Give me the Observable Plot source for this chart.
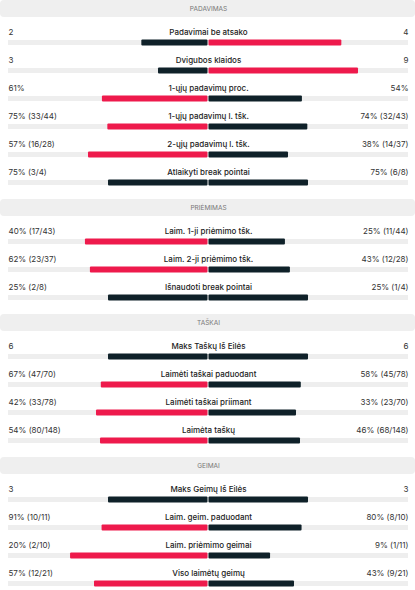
<!DOCTYPE html>
<html>
<head>
<meta charset="utf-8">
<script src="https://cdn.jsdelivr.net/npm/d3@7"></script>
<script src="https://cdn.jsdelivr.net/npm/@observablehq/plot@0.6"></script>
<style>
  html, body { margin: 0; padding: 0; background: #fff; }
  #chart svg { display: block; }
  g[aria-label="header-text"] text { letter-spacing: 0.6px; }
</style>
</head>
<body>
<div id="chart"></div>
<script>
const sections = ["PADAVIMAS", "PRIĖMIMAS", "TAŠKAI", "GEIMAI"];
const statSection = [0, 0, 0, 0, 0, 0, 1, 1, 1, 2, 2, 2, 2, 3, 3, 3, 3];
const statLabels = [
  "Padavimai be atsako", "Dvigubos klaidos", "1-ųjų padavimų proc.",
  "1-ųjų padavimų l. tšk.", "2-ųjų padavimų l. tšk.", "Atlaikyti break pointai",
  "Laim. 1-ji priėmimo tšk.", "Laim. 2-ji priėmimo tšk.", "Išnaudoti break pointai",
  "Maks Taškų Iš Eilės", "Laimėti taškai paduodant", "Laimėti taškai priimant", "Laimėta taškų",
  "Maks Geimų Iš Eilės", "Laim. geim. paduodant", "Laim. priėmimo geimai", "Viso laimėtų geimų"
];
const leftValues  = [2, 3, 61, 75, 57, 75, 40, 62, 25, 6, 67, 42, 54, 3, 91, 20, 57];
const rightValues = [4, 9, 54, 74, 38, 75, 25, 43, 25, 6, 58, 33, 46, 3, 80, 9, 43];
const leftText = [
  "2", "3", "61%", "75% (33/44)", "57% (16/28)", "75% (3/4)",
  "40% (17/43)", "62% (23/37)", "25% (2/8)",
  "6", "67% (47/70)", "42% (33/78)", "54% (80/148)",
  "3", "91% (10/11)", "20% (2/10)", "57% (12/21)"
];
const rightText = [
  "4", "9", "54%", "74% (32/43)", "38% (14/37)", "75% (6/8)",
  "25% (11/44)", "43% (12/28)", "25% (1/4)",
  "6", "58% (45/78)", "33% (23/70)", "46% (68/148)",
  "3", "80% (8/10)", "9% (1/11)", "43% (9/21)"
];

const RED = "#ee1a4c";
const DARK = "#0f2129";

// layout (vertical slots)
const HEADER_H = 17, FIRST = 32, STEP = 28, GAP = 14, BAR_OFF = 10.5;
const headers = [];
const rows = [];
let cursor = 0;
sections.forEach((name, s) => {
  headers.push({name, y1: cursor, y2: cursor + HEADER_H, yc: cursor + HEADER_H / 2});
  const idx = statSection.map((v, i) => v === s ? i : -1).filter(i => i >= 0);
  idx.forEach((i, k) => {
    const l = leftValues[i], r = rightValues[i];
    const t = l + r;
    rows.push({
      label: statLabels[i], lt: leftText[i], rt: rightText[i],
      ty: cursor + FIRST + STEP * k,
      by: cursor + FIRST + STEP * k + BAR_OFF,
      lshare: t ? l / t : 0, rshare: t ? r / t : 0,
      lcol: l > r ? RED : DARK, rcol: r > l ? RED : DARK
    });
  });
  cursor += HEADER_H + idx.length * STEP + GAP;
});

const W = 415, H = 590;
const font = "Inter, 'Noto Sans', sans-serif";

const chart = Plot.plot({
  width: W, height: H,
  margin: 0,
  x: {domain: [-1, 1], range: [8, 408], axis: null},
  y: {domain: [0, H], range: [0, H], axis: null},
  style: {fontFamily: font, background: "#fff"},
  marks: [
    Plot.rect(headers, {y1: "y1", y2: "y2", fill: "#efefef", rx: 4}),
    Plot.text(headers, {y: "yc", x: 0, text: "name", fontSize: 6.5, fill: "#777", ariaLabel: "header-text"}),
    Plot.rect(rows, {x1: -1, x2: 1, y1: d => d.by - 2.5, y2: d => d.by + 2.5, fill: "#eeeeee"}),
    Plot.rect(rows, {x1: d => -d.lshare, x2: 0, y1: d => d.by - 3, y2: d => d.by + 3, fill: "lcol", insetRight: 0.5, rx: 1}),
    Plot.rect(rows, {x1: 0, x2: "rshare", y1: d => d.by - 3, y2: d => d.by + 3, fill: "rcol", insetLeft: 0.5, rx: 1}),
    Plot.text(rows, {x: 0, y: "ty", text: "label", fontSize: 8, fontWeight: 500, fill: "#222"}),
    Plot.text(rows, {x: -1, y: "ty", text: "lt", textAnchor: "start", fontSize: 8, fill: "#333"}),
    Plot.text(rows, {x: 1, y: "ty", text: "rt", textAnchor: "end", fontSize: 8, fill: "#333"})
  ]
});
document.getElementById("chart").appendChild(chart);
</script>
</body>
</html>
